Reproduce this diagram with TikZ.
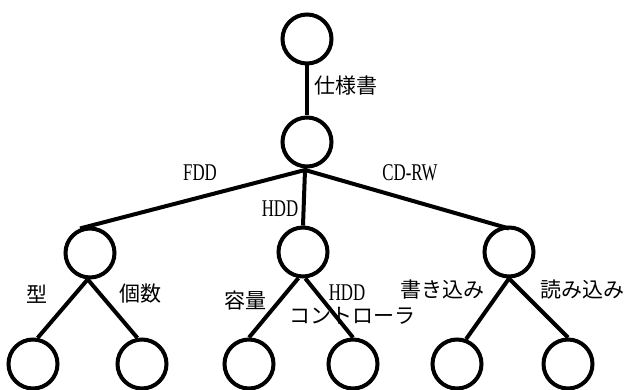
\documentclass[tikz,border=0pt]{standalone}
\usepackage{fontspec}
\newfontfamily\jpfont{Noto Sans CJK JP}
\newfontfamily\latfont[FakeStretch=0.7]{Liberation Serif}
\begin{document}
\begin{tikzpicture}[x=1pt,y=-1pt,
  vtx/.style={draw,circle,line width=4pt,minimum size=49pt,inner sep=0pt},
  edge/.style={line width=4pt},
  jp/.style={inner sep=0pt,font=\jpfont\fontsize{21}{21}\selectfont},
  lat/.style={inner sep=0pt,font=\latfont\fontsize{24}{24}\selectfont}]
\useasboundingbox (0,0) rectangle (628,390);
% nodes
\node[vtx] (r) at (307,39) {};
\node[vtx] (s) at (307,142) {};
\coordinate (hub) at (305,170);
\node[vtx] (a) at (90,253) {};
\node[vtx] (b) at (303,252) {};
\node[vtx] (c) at (509,252) {};
\node[vtx] (a1) at (33,364) {};
\node[vtx] (a2) at (142,364) {};
\node[vtx] (b1) at (249,364) {};
\node[vtx] (b2) at (353,364) {};
\node[vtx] (c1) at (457,364) {};
\node[vtx] (c2) at (568,364) {};
% connectors
\draw[edge] (r) -- (s);
\draw[edge] (s.south) -- (hub);
\draw[edge] (hub) -- (a.112);
\draw[edge] (hub) -- (b.north);
\draw[edge] (hub) -- ([yshift=-3pt]c.north);
\draw[edge] (a.265) -- (a1.80);
\draw[edge] (a.265) -- (a2.100);
\draw[edge] (b.260) -- (b1.north);
\draw[edge] (b.275) -- (b2.north);
\draw[edge] (c.south) -- (c1.70);
\draw[edge] (c.south) -- (c2.north);
% labels
\node[jp,anchor=west] (l0) at (314,86) {仕様書};
\node[lat] (l1) at (200,172.5) {FDD};
\node[lat] (l2) at (280,209) {HDD};
\node[lat] (l3) at (410,173) {CD-RW};
\node[jp] (l4) at (37,294) {型};
\node[jp] (l5) at (140,294) {個数};
\node[jp] (l6) at (245,301) {容量};
\node[lat] (l7) at (347,293) {HDD};
\node[jp] (l8) at (352,316) {コントローラ};
\node[jp] (l9) at (442,290) {書き込み};
\node[jp] (l10) at (582,290) {読み込み};
\end{tikzpicture}
\end{document}
